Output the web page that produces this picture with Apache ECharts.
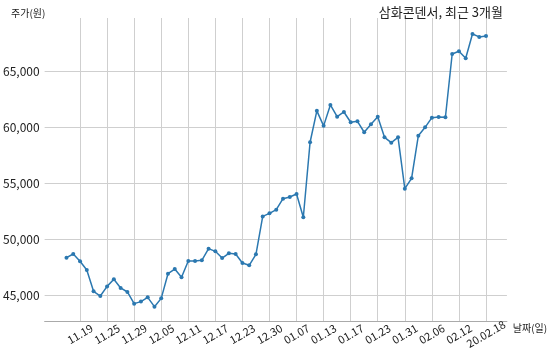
<!DOCTYPE html>
<html>
<head>
<meta charset="utf-8">
<script src="https://cdn.jsdelivr.net/npm/echarts@6/dist/echarts.min.js"></script>
<style>html,body{margin:0;padding:0;background:#fff}#c{width:550px;height:356px}</style>
</head>
<body>
<div id="c"></div>
<script>
const titleText = '삼화콘덴서, 최근 3개월';
const yName = '주가(원)';
const xName = '날짜(일)';
const prices = [48330,48660,48010,47230,45330,44910,45770,46400,45630,45270,
  44230,44410,44790,43960,44700,46900,47320,46580,48040,48040,
  48100,49140,48900,48300,48720,48660,47860,47650,48630,52020,
  52290,52620,53600,53750,54020,51940,58640,61440,60100,61970,
  60920,61340,60420,60510,59530,60240,60920,59080,58600,59080,
  54490,55420,59220,59970,60830,60890,60870,66520,66760,66130,
  68300,68040,68130];
const tickIndex = [2,6,10,14,18,22,26,30,34,38,42,46,50,54,58,62];
const tickLabels = ['11.19','11.25','11.29','12.05','12.11','12.17','12.23','12.30','01.07','01.13','01.17','01.23','01.31','02.06','02.12','20.02.18'];
const yTicks = [45000,50000,55000,60000,65000];

const font = '"Noto Sans CJK KR", "Noto Sans", sans-serif';
const chart = echarts.init(document.getElementById('c'));
chart.setOption({
  animation: false,
  title: [
    {text: titleText, right: 42, top: 1, textStyle: {fontFamily: font, fontSize: 13, fontWeight: 'normal', color: '#222'}},
    {text: yName, left: 11, top: 8, padding: 0, textStyle: {fontFamily: font, fontSize: 10, fontWeight: 'normal', color: '#222'}}
  ],
  grid: {left: 43, right: 42, top: 18, bottom: 35, containLabel: false},
  xAxis: {
    type: 'value', min: -3.23, max: 65.09,
    name: xName, nameLocation: 'end', nameGap: 4,
    nameTextStyle: {fontFamily: font, fontSize: 10, color: '#222', verticalAlign: 'top', padding: [2,0,0,0]},
    axisLine: {show: true, lineStyle: {color: '#aaa', width: 1}},
    axisTick: {show: false, customValues: tickIndex},
    splitLine: {show: true, lineStyle: {color: '#cfcfcf', width: 1}},
    axisLabel: {customValues: tickIndex, rotate: 30, align: 'center', verticalAlign: 'middle', margin: 13,
      fontFamily: font, fontSize: 11, color: '#222',
      formatter: v => tickLabels[tickIndex.indexOf(Math.round(v))] || ''}
  },
  yAxis: {
    type: 'value', min: 42680, max: 69730,
    axisLine: {show: false},
    axisTick: {show: false, customValues: yTicks},
    splitLine: {show: true, lineStyle: {color: '#cfcfcf', width: 1}},
    axisLabel: {customValues: yTicks, margin: 5, fontFamily: font, fontSize: 12, color: '#222',
      formatter: v => v.toLocaleString('en-US')}
  },
  series: [{
    type: 'line',
    data: prices.map((p, i) => [i, p]),
    symbol: 'circle', symbolSize: 4,
    lineStyle: {color: '#2b78b0', width: 1.5},
    itemStyle: {color: '#2b78b0'}
  }]
});
</script>
</body>
</html>
